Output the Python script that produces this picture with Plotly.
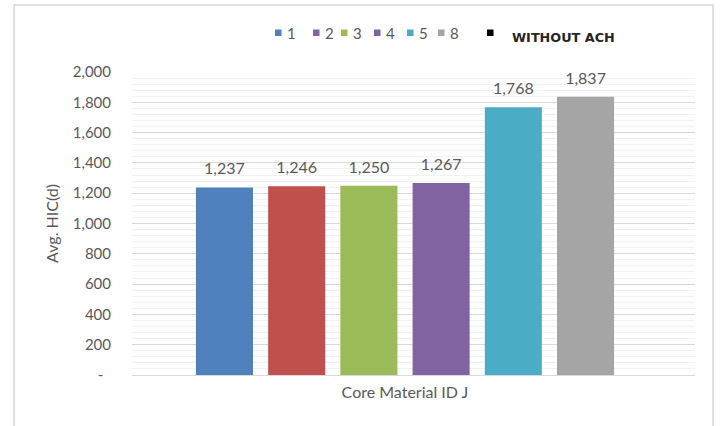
import plotly.graph_objects as go

# ---- data ----
category = ["Core Material ID J"]
series_names = ["1", "2", "3", "4", "5", "8"]
series_values = [1237, 1246, 1250, 1267, 1768, 1837]
series_colors = ["#4F81BD", "#C0504D", "#9BBB59", "#8064A2", "#4BACC6", "#A5A5A5"]

legend_labels = ["1", "2", "3", "4", "5", "8", "WITHOUT ACH"]
legend_colors = ["#4F81BD", "#8064A2", "#9BBB59", "#8064A2", "#4BACC6", "#A5A5A5", "#000000"]

y_tickvals = [0, 200, 400, 600, 800, 1000, 1200, 1400, 1600, 1800, 2000]
y_ticktext = ["-\u00a0\u00a0", "200", "400", "600", "800", "1,000", "1,200", "1,400", "1,600", "1,800", "2,000"]

# ---- layout constants (pixels) ----
W, H = 720, 426
ML, MR, MT, MB = 132, 25, 72, 51
PW, PH = W - ML - MR, H - MT - MB
legend_px = [275, 313, 341, 374, 407, 438, 487]


def px_x(p):
    return (p - ML) / PW


def px_y(p):
    return (H - MB - p) / PH


FONT = "Lato, Carlito, 'Liberation Sans', sans-serif"
GREY = "#595959"

fig = go.Figure()
for name, val, col in zip(series_names, series_values, series_colors):
    fig.add_trace(go.Bar(
        x=category, y=[val], name=name,
        marker=dict(color=col, line=dict(width=0)),
        texttemplate="<span style='font-size:16px'>%{y:,}</span><br> ",
        textposition="outside",
        textfont=dict(family=FONT, size=7, color=GREY),
        cliponaxis=False,
        showlegend=False,
    ))

shapes = [dict(type="rect", xref="paper", yref="paper",
               x0=px_x(14), x1=px_x(713), y0=-0.4, y1=px_y(5),
               line=dict(color="#D9D9D9", width=1.6), fillcolor="rgba(0,0,0,0)",
               layer="below")]
annotations = []
for i, (lab, col) in enumerate(zip(legend_labels, legend_colors)):
    x0 = legend_px[i]
    shapes.append(dict(type="rect", xref="paper", yref="paper",
                       x0=px_x(x0), x1=px_x(x0 + 6.5),
                       y0=px_y(36), y1=px_y(29.5),
                       fillcolor=col, line=dict(width=0)))
    if lab == "WITHOUT ACH":
        annotations.append(dict(text="<b>" + lab + "</b>", xref="paper", yref="paper",
                                x=px_x(x0 + 23), y=px_y(37), xanchor="left", yanchor="middle",
                                showarrow=False,
                                font=dict(family="'DejaVu Sans', Verdana, sans-serif", size=12.8,
                                          color="#262626")))
    else:
        annotations.append(dict(text=lab, xref="paper", yref="paper",
                                x=px_x(x0 + 10), y=px_y(33.5), xanchor="left", yanchor="middle",
                                showarrow=False,
                                font=dict(family=FONT, size=15, color=GREY)))

fig.update_layout(
    width=W, height=H,
    margin=dict(l=ML, r=MR, t=MT, b=MB, autoexpand=False),
    paper_bgcolor="white", plot_bgcolor="white",
    barmode="group", bargap=0.2304, bargroupgap=0.21,
    showlegend=False,
    shapes=shapes, annotations=annotations,
    font=dict(family=FONT, color=GREY),
    xaxis=dict(
        type="category", range=[-0.4849, 0.5151], automargin=False,
        showgrid=False, showline=False, zeroline=False,
        ticks="", tickfont=dict(family=FONT, size=16, color=GREY),
        ticklabelstandoff=6,
    ),
    yaxis=dict(
        range=[0, 2000], tickvals=y_tickvals, ticktext=y_ticktext, automargin=True,
        showgrid=True, gridcolor="#D9D9D9", gridwidth=1,
        zeroline=True, zerolinecolor="#D9D9D9", zerolinewidth=1,
        showline=False, ticks="",
        tickfont=dict(family=FONT, size=15, color=GREY),
        ticklabelstandoff=20,
        minor=dict(dtick=40, showgrid=True, gridcolor="#F2F2F2", gridwidth=1),
        title=dict(text="Avg. HIC(d)", font=dict(family=FONT, size=16, color=GREY), standoff=10),
    ),
)

fig.write_html("out.html", config={"displayModeBar": False},
               post_script="document.body.style.margin='0';document.body.style.overflow='hidden';")
